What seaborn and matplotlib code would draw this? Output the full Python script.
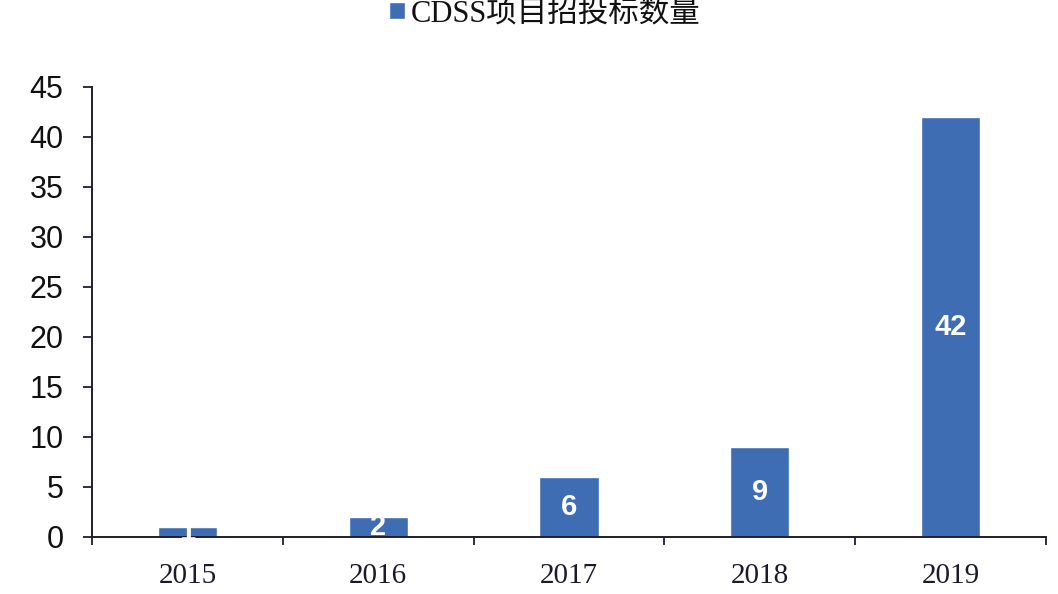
import matplotlib
matplotlib.use('Agg')
import matplotlib.pyplot as plt
import seaborn as sns
import pandas as pd

# data
years = ['2015', '2016', '2017', '2018', '2019']
counts = [1, 2, 6, 9, 42]
series_name = 'CDSS项目招投标数量'
y_ticks = [0, 5, 10, 15, 20, 25, 30, 35, 40, 45]

bar_color = '#3E6DB4'
axis_color = '#1F1D33'
text_color = '#111111'

sns.set_theme(style='white')
plt.rcParams['font.family'] = ['Liberation Serif', 'Noto Sans CJK SC', 'DejaVu Sans']
plt.rcParams['text.color'] = text_color

df = pd.DataFrame({'year': years, 'count': counts, 'series': series_name})

fig = plt.figure(figsize=(10.58, 5.94), dpi=100)
fig.patch.set_facecolor('white')
ax = fig.add_axes([92 / 1058, 57 / 594, 954 / 1058, 450 / 594])

sns.barplot(data=df, x='year', y='count', hue='series', palette=[bar_color],
            width=0.31, saturation=1, ax=ax)

ax.bar_label(ax.containers[0], labels=[str(c) for c in counts], label_type='center',
             color='white', fontsize=21, fontweight='bold', family=['Liberation Sans'])

ax.set_xlim(-0.5, len(years) - 0.5)
ax.set_ylim(0, 45)
ax.set_yticks(y_ticks)
ax.set_yticklabels([str(t) for t in y_ticks], family=['Liberation Sans'], fontsize=22,
                   color=text_color)
ax.set_xticks(range(len(years)))
ax.set_xticklabels(years, family=['Liberation Serif'], fontsize=21, color='#1a1a2a')
ax.set_xticks([i - 0.5 for i in range(len(years) + 1)], minor=True)
ax.tick_params(axis='x', which='major', length=0, pad=19)
ax.tick_params(axis='x', which='minor', length=6, width=1.3, color=axis_color, direction='out', bottom=True)
ax.tick_params(axis='y', length=6.5, width=1.3, color=axis_color, direction='out', left=True, pad=14)
ax.set_xlabel('')
ax.set_ylabel('')

for side in ['top', 'right']:
    ax.spines[side].set_visible(False)
for side in ['left', 'bottom']:
    ax.spines[side].set_color(axis_color)
    ax.spines[side].set_linewidth(1.4)

sns.move_legend(ax, loc='center', bbox_to_anchor=(545 / 1058, 1 - 14 / 594),
                bbox_transform=fig.transFigure, title=None, frameon=False,
                fontsize=22, handlelength=0.5, handleheight=0.5, handletextpad=0.2,
                borderpad=0)

fig.savefig('out.png', dpi=100)
